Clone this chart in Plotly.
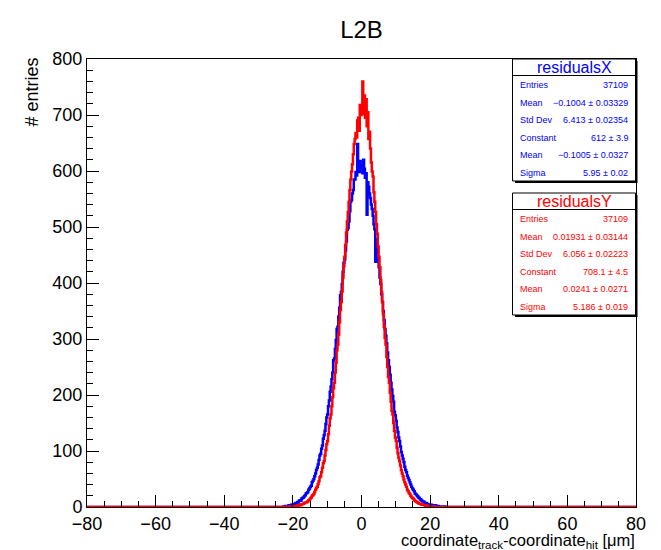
import plotly.graph_objects as go

# histogram binning (um)
bin_lo = -23.0
bin_w = 0.25
x_range = [-80, 80]

# residualsX counts, 4 bins per micron from -23 to 25
counts_x = [
    0, 1, 0, 2,   1, 2, 0, 3,   2, 3, 4, 3,   5, 4, 6, 7,
    7, 9, 8, 11,   12, 11, 15, 16,   17, 19, 21, 24,   25, 27, 31, 33,
    36, 38, 44, 47,   50, 55, 60, 66,   70, 76, 84, 92,   95, 104, 110, 122,
    128, 136, 148, 160,   165, 180, 190, 206,   215, 228, 240, 262,   265, 282, 298, 318,
    322, 340, 356, 378,   384, 398, 420, 436,   442, 458, 474, 495,   498, 510, 528, 545,
    548, 560, 566, 585,   585, 598, 592, 648,   604, 598, 618, 608,   610, 596, 620, 604,
    588, 596, 522, 580,   572, 560, 552, 540,   532, 520, 505, 496,   438, 478, 462, 445,
    428, 410, 398, 380,   366, 350, 334, 318,   306, 292, 276, 262,   250, 236, 222, 210,
    198, 188, 170, 164,   154, 142, 134, 124,   118, 108, 98, 92,   86, 80, 72, 66,
    62, 56, 52, 48,   44, 40, 36, 33,   31, 28, 24, 23,   21, 19, 17, 16,
    14, 13, 11, 10,   10, 8, 7, 7,   6, 5, 4, 4,   3, 4, 2, 3,
    2, 1, 3, 2,   1, 2, 1, 0,   1, 0, 1, 0,   0, 1, 0, 0,
]

# residualsY counts, same binning
counts_y = [
    0, 0, 0, 0,   0, 0, 1, 0,   0, 1, 0, 1,   1, 1, 2, 1,
    2, 3, 2, 3,   4, 3, 5, 5,   6, 7, 8, 8,   9, 10, 12, 13,
    15, 17, 20, 21,   23, 27, 31, 34,   36, 41, 46, 53,   55, 62, 70, 78,
    82, 92, 102, 112,   118, 130, 145, 158,   165, 180, 196, 212,   222, 240, 258, 280,
    290, 308, 330, 352,   366, 385, 410, 430,   447, 468, 490, 510,   527, 545, 566, 585,
    599, 612, 630, 648,   657, 668, 660, 690,   695, 672, 718, 700,   708, 760, 702, 735,
    695, 728, 680, 705,   657, 670, 640, 615,   599, 590, 562, 545,   527, 505, 488, 465,
    447, 428, 405, 384,   366, 344, 322, 302,   290, 268, 250, 232,   222, 204, 188, 172,
    165, 150, 136, 124,   118, 106, 96, 88,   82, 74, 66, 60,   55, 49, 44, 40,
    36, 31, 28, 25,   23, 20, 18, 16,   15, 13, 11, 10,   9, 8, 7, 6,
    6, 5, 4, 4,   4, 3, 2, 3,   2, 1, 2, 1,   1, 0, 1, 1,
    0, 1, 0, 0,   0, 0, 0, 0,   0, 0, 0, 0,   0, 0, 0, 0,
]

stats_labels = ["Entries", "Mean", "Std Dev", "Constant", "Mean", "Sigma"]
stats_x = ["37109", "\u22120.1004 \u00b1 0.03329", "6.413 \u00b1 0.02354",
           "612 \u00b1 3.9", "\u22120.1005 \u00b1 0.0327", "5.95 \u00b1 0.02"]
stats_y = ["37109", "0.01931 \u00b1 0.03144", "6.056 \u00b1 0.02223",
           "708.1 \u00b1 4.5", "0.0241 \u00b1 0.0271", "5.186 \u00b1 0.019"]

# plot area in page pixels; the html body adds an 8px margin
OFF = 8
L, R, T, B = 87, 636, 59, 507
W, H = 661 - OFF, 550 - OFF


def px(x):
    return (x - L) / (R - L)


def py(y):
    return (B - y) / (B - T)


def steps(counts):
    edges = [bin_lo + i * bin_w for i in range(len(counts))]
    xs = [x_range[0]] + edges + [bin_lo + len(counts) * bin_w, x_range[1]]
    ys = [0] + list(counts) + [0, 0]
    return xs, ys


fig = go.Figure()
for counts, col in [(counts_x, "#0000ff"), (counts_y, "#ff0000")]:
    xs, ys = steps(counts)
    fig.add_trace(go.Scatter(x=xs, y=ys, mode="lines", line_shape="hv",
                             line=dict(color=col, width=2.5), hoverinfo="skip"))

shapes = []
annotations = []
boxes = [("residualsX", "#0000ff", stats_x, 59, 181),
         ("residualsY", "#ff0000", stats_y, 193, 315)]
for name, col, vals, top, bot in boxes:
    # shadow then box
    shapes.append(dict(type="rect", xref="paper", yref="paper",
                       x0=px(515), x1=px(637.5), y0=py(bot + 2), y1=py(top + 2),
                       fillcolor="black", line=dict(width=0), layer="above"))
    shapes.append(dict(type="rect", xref="paper", yref="paper",
                       x0=px(512.5), x1=px(635.5), y0=py(bot), y1=py(top),
                       fillcolor="white", line=dict(color="black", width=1), layer="above"))
    shapes.append(dict(type="line", xref="paper", yref="paper",
                       x0=px(512.5), x1=px(635.5), y0=py(top + 16.5), y1=py(top + 16.5),
                       line=dict(color="black", width=1), layer="above"))
    annotations.append(dict(text=name, xref="paper", yref="paper", x=px(574), y=py(top + 8.5),
                            xanchor="center", yanchor="middle", showarrow=False,
                            font=dict(size=16, color=col)))
    for i, (lab, val) in enumerate(zip(stats_labels, vals)):
        yy = py(top + 26 + i * 17.6)
        annotations.append(dict(text=lab, xref="paper", yref="paper", x=px(518), y=yy,
                                xanchor="left", yanchor="middle", showarrow=False,
                                font=dict(size=9, color=col)))
        annotations.append(dict(text=val, xref="paper", yref="paper", x=px(630), y=yy,
                                xanchor="right", yanchor="middle", showarrow=False,
                                font=dict(size=9, color=col)))

annotations.append(dict(text="coordinate<sub>track</sub>-coordinate<sub>hit</sub> [\u03bcm]",
                        xref="paper", yref="paper", x=px(637), y=py(529),
                        xanchor="right", yanchor="top", showarrow=False,
                        font=dict(size=16.5, color="black")))
annotations.append(dict(text="# entries", xref="paper", yref="paper", x=px(32), y=py(56),
                        xanchor="center", yanchor="top", showarrow=False, textangle=-90,
                        font=dict(size=18, color="black")))

axis_common = dict(showgrid=False, zeroline=False, showline=True, linecolor="black",
                   linewidth=1, mirror=True, ticks="inside", tickcolor="black",
                   ticklen=12, tickwidth=1, tickfont=dict(size=18, color="black"))
fig.update_xaxes(range=x_range, dtick=20, tick0=-80,
                 minor=dict(dtick=5, ticks="inside", ticklen=6, tickcolor="black"),
                 **axis_common)
fig.update_yaxes(range=[0, 800], dtick=100,
                 minor=dict(dtick=20, ticks="inside", ticklen=6, tickcolor="black"),
                 **axis_common)

fig.update_layout(
    width=W, height=H,
    margin=dict(l=L - OFF, r=W - (R - OFF), t=T - OFF, b=H - (B - OFF)),
    paper_bgcolor="white", plot_bgcolor="white",
    showlegend=False,
    font=dict(family="Liberation Sans, Arial, Helvetica", color="black"),
    title=dict(text="L2B", x=0.5, xref="paper", y=1 - (30 - OFF) / H, yanchor="middle",
               font=dict(size=24, color="black")),
    shapes=shapes,
    annotations=annotations,
)

fig.write_html("out.html")
